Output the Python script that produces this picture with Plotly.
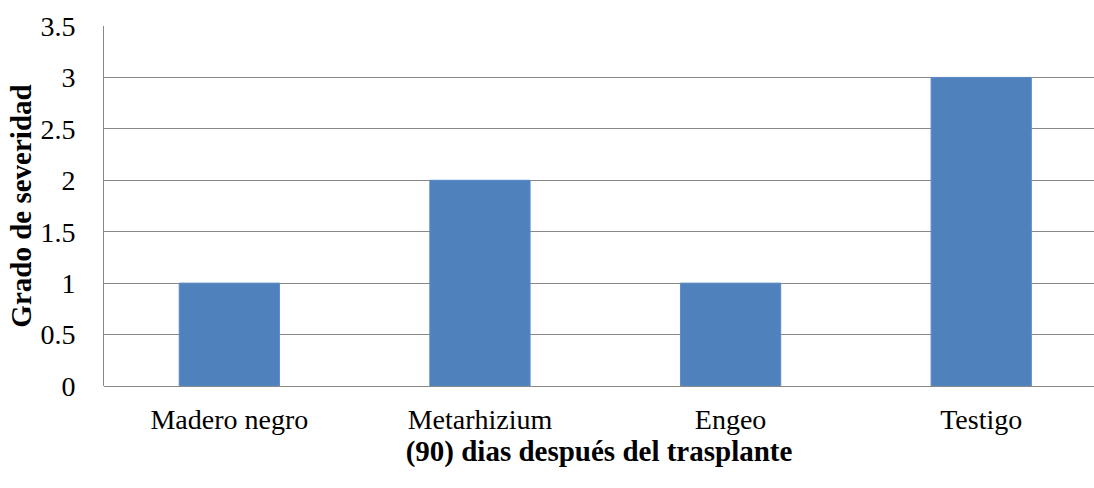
import plotly.graph_objects as go

categories = ["Madero negro", "Metarhizium", "Engeo", "Testigo"]
values = [1, 2, 1, 3]
y_ticks = [0, 0.5, 1, 1.5, 2, 2.5, 3, 3.5]
y_tick_labels = ["0", "0.5", "1", "1.5", "2", "2.5", "3", "3.5"]

font_family = "Liberation Serif, Times New Roman, serif"

fig = go.Figure(
    go.Bar(
        x=categories,
        y=values,
        width=0.4,
        marker=dict(color="#4F81BD", line=dict(color="#5B8CC6", width=1)),
    )
)

fig.update_layout(
    width=1094,
    height=488,
    autosize=False,
    margin=dict(l=104, r=0, t=26, b=102, pad=0),
    plot_bgcolor="white",
    paper_bgcolor="white",
    showlegend=False,
    font=dict(family=font_family, size=28, color="black"),
    xaxis=dict(
        automargin=False,
        range=[-0.5, 3.45],
        showgrid=False,
        showline=False,
        ticks="",
        ticklabelstandoff=14,
        tickfont=dict(family=font_family, size=28),
        title=dict(
            text="<b>(90) dias después del trasplante</b>",
            font=dict(family=font_family, size=29),
            standoff=2,
        ),
    ),
    yaxis=dict(
        automargin=False,
        range=[0, 3.5],
        tickvals=y_ticks,
        ticktext=y_tick_labels,
        showgrid=True,
        gridcolor="#888888",
        gridwidth=1,
        showline=True,
        linecolor="#888888",
        linewidth=1,
        zeroline=True,
        zerolinecolor="#888888",
        zerolinewidth=1,
        ticks="",
        ticklen=0,
        ticklabelstandoff=22,
        tickfont=dict(family=font_family, size=28),
        title=dict(
            text="<b>Grado de severidad</b>",
            font=dict(family=font_family, size=29),
            standoff=0,
        ),
    ),
)

fig.write_html(
    "out.html",
    config={"displayModeBar": False},
    post_script="document.body.style.margin='0';document.body.style.overflow='hidden';",
)
